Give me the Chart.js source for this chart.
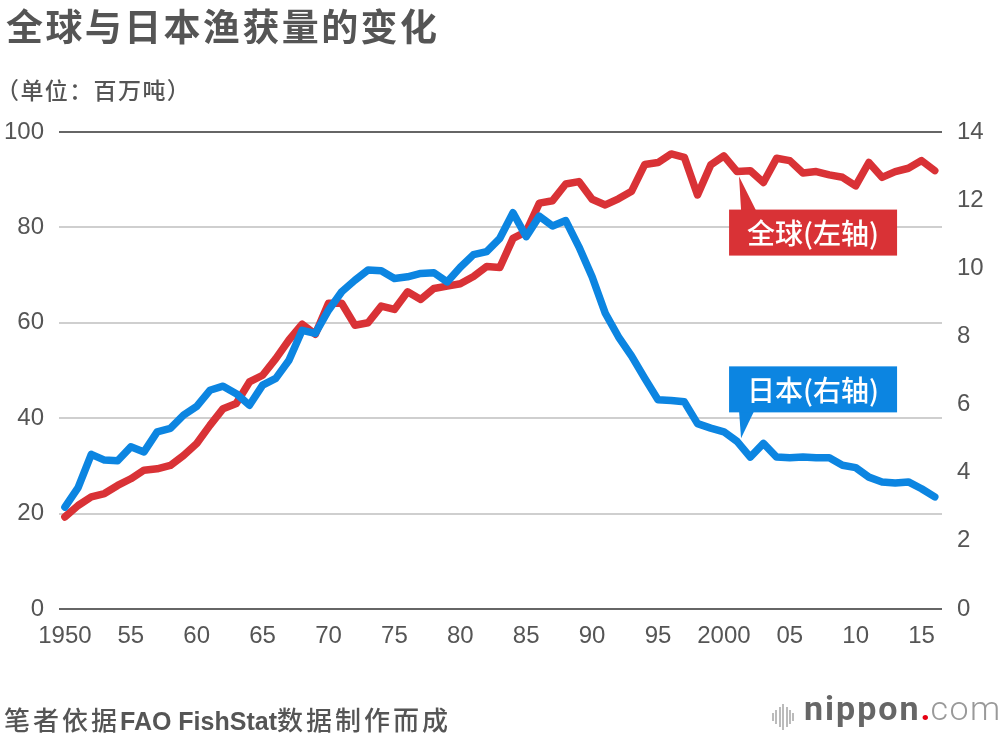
<!DOCTYPE html>
<html>
<head>
<meta charset="utf-8">
<script src="https://cdn.jsdelivr.net/npm/chart.js@4.4.1/dist/chart.umd.min.js"></script>
<style>
  html, body { margin: 0; padding: 0; background: #fff; }
  #wrap { position: relative; width: 1000px; height: 736px; overflow: hidden; }
  #chart { position: absolute; left: 0; top: 0; }
  .txt { position: absolute; color: #555; font-family: "Noto Sans CJK SC", sans-serif; white-space: nowrap; }
  #title { left: 6px; top: -2px; font-size: 37px; font-weight: 700; letter-spacing: 2.4px; }
  #unit { left: -4px; top: 72px; font-size: 23px; font-weight: 500; letter-spacing: 1.4px; }
  #source { left: 4px; top: 700px; font-size: 25px; font-weight: 700; font-family: "Liberation Sans", "Noto Sans CJK SC", sans-serif; }
  #source .cj { font-family: "Noto Sans CJK SC", sans-serif; font-weight: 500; font-size: 26px; letter-spacing: 3px; }
  #logo { position: absolute; left: 770px; top: 694px; height: 40px; }
  #logo .bars { position: absolute; left: 2px; top: 10px; }
  #logo .bars span { position: absolute; width: 2px; background: #bbb; }
  #logo .word { position: absolute; left: 34px; top: -6px; font-family: Roboto, sans-serif; font-size: 34px; white-space: nowrap; }
  #logo .n { font-weight: 700; color: #666; letter-spacing: 2px; }
  #logo .d { font-weight: 700; color: #e60012; }
  #logo .c { font-weight: 300; color: #999; letter-spacing: 1.5px; }
</style>
</head>
<body>
<div id="wrap">
  <canvas id="chart" width="1000" height="736"></canvas>
  <div class="txt" id="title">全球与日本渔获量的变化</div>
  <div class="txt" id="unit">（单位：百万吨）</div>
  <div class="txt" id="source"><span class="cj">笔者依据</span>FAO FishStat<span class="cj">数据制作而成</span></div>
  <div id="logo">
    <div class="bars" id="bars"></div>
    <div class="word"><span class="n">nippon</span><span class="d">.</span><span class="c">com</span></div>
  </div>
</div>
<script>
// years 1950 - 2016
const years = [];
for (let y = 1950; y <= 2016; y++) years.push(y);

// world catch, million tonnes (left axis)
const worldCatch = [
  19.3, 21.7, 23.5, 24.2, 25.9, 27.3, 29.1, 29.4, 30.1, 32.2,
  34.7, 38.5, 42.0, 43.1, 47.6, 49.0, 52.5, 56.4, 59.7, 57.6,
  64.1, 64.1, 59.5, 60.0, 63.5, 62.8, 66.5, 64.9, 67.2, 67.7,
  68.2, 69.7, 71.8, 71.6, 77.7, 79.1, 85.1, 85.6, 89.1, 89.6,
  85.9, 84.7, 86.0, 87.6, 93.2, 93.6, 95.4, 94.7, 86.8, 93.1,
  95.0, 91.7, 91.9, 89.4, 94.5, 94.0, 91.4, 91.7, 91.0, 90.5,
  88.7, 93.6, 90.5, 91.7, 92.4, 94.0, 91.9
];

// Japan catch, million tonnes (right axis)
const japanCatch = [
  2.99, 3.56, 4.54, 4.37, 4.35, 4.76, 4.61, 5.20, 5.30, 5.69,
  5.95, 6.42, 6.54, 6.32, 5.98, 6.57, 6.77, 7.30, 8.18, 8.09,
  8.77, 9.31, 9.65, 9.95, 9.93, 9.70, 9.75, 9.85, 9.87, 9.60,
  10.03, 10.40, 10.49, 10.88, 11.63, 10.93, 11.53, 11.24, 11.40, 10.63,
  9.75, 8.68, 7.99, 7.42, 6.77, 6.14, 6.12, 6.08, 5.44, 5.31,
  5.20, 4.92, 4.46, 4.86, 4.46, 4.44, 4.46, 4.44, 4.44, 4.22,
  4.15, 3.87, 3.73, 3.70, 3.73, 3.53, 3.29
];

const xTickYears = [1950, 1955, 1960, 1965, 1970, 1975, 1980, 1985, 1990, 1995, 2000, 2005, 2010, 2015];
const xTickLabels = ['1950', '55', '60', '65', '70', '75', '80', '85', '90', '95', '2000', '05', '10', '15'];
const leftTicks = [0, 20, 40, 60, 80, 100];
const rightTicks = [0, 2, 4, 6, 8, 10, 12, 14];

const RED = '#d93236';
const BLUE = '#0c85e1';
const labelYear = 2001;

// logo bars
const barHeights = [8, 14, 20, 26, 20, 14, 8];
const barsEl = document.getElementById('bars');
barHeights.forEach(function (h, i) {
  const s = document.createElement('span');
  s.style.left = (i * 3.4) + 'px';
  s.style.height = h + 'px';
  s.style.top = (13 - h / 2) + 'px';
  barsEl.appendChild(s);
});

const calloutPlugin = {
  id: 'callouts',
  afterDatasetsDraw(chart) {
    const c = chart.ctx;
    const xs = chart.scales.x;
    const i = years.indexOf(labelYear);
    const px = xs.getPixelForValue(labelYear);

    function box(color, text, bx, by, tri) {
      c.save();
      c.fillStyle = color;
      c.beginPath();
      c.moveTo(tri[0][0], tri[0][1]);
      c.lineTo(tri[1][0], tri[1][1]);
      c.lineTo(tri[2][0], tri[2][1]);
      c.closePath();
      c.fill();
      c.fillRect(bx, by, 168, 46);
      c.fillStyle = '#fff';
      c.font = '500 28px "Noto Sans CJK SC"';
      c.textAlign = 'center';
      c.textBaseline = 'middle';
      c.fillText(text, bx + 84, by + 24);
      c.restore();
    }

    // world (left axis)
    const ry = chart.scales.yL.getPixelForValue(worldCatch[i]);
    const rTop = ry + 38;
    box(RED, '全球(左轴)', px - 8, rTop,
      [[px + 2, ry + 5], [px + 4, rTop + 1], [px + 19, rTop + 1]]);

    // japan (right axis)
    const by = chart.scales.yR.getPixelForValue(japanCatch[i]);
    const bBot = by - 29;
    box(BLUE, '日本(右轴)', px - 8, bBot - 46,
      [[px + 4, by - 3], [px + 2, bBot - 1], [px + 17, bBot - 1]]);
  }
};

const ctx = document.getElementById('chart').getContext('2d');
const chart = new Chart(ctx, {
  type: 'line',
  data: {
    datasets: [
      {
        label: '日本(右轴)',
        data: years.map((y, k) => ({ x: y, y: japanCatch[k] })),
        borderColor: BLUE,
        yAxisID: 'yR',
        order: 0
      },
      {
        label: '全球(左轴)',
        data: years.map((y, k) => ({ x: y, y: worldCatch[k] })),
        borderColor: RED,
        yAxisID: 'yL',
        order: 1
      }
    ]
  },
  options: {
    responsive: false,
    animation: false,
    devicePixelRatio: 1,
    layout: { padding: { top: 132, left: 0, right: 0, bottom: 67 } },
    elements: {
      line: { borderWidth: 7.5, tension: 0, borderJoinStyle: 'round', borderCapStyle: 'round', fill: false },
      point: { radius: 0, hoverRadius: 0 }
    },
    plugins: {
      legend: { display: false },
      tooltip: { enabled: false }
    },
    scales: {
      x: {
        type: 'linear',
        min: 1949.55,
        max: 2016.55,
        afterFit: function (s) { s.height = 60; },
        afterBuildTicks: function (s) { s.ticks = xTickYears.map(v => ({ value: v })); },
        grid: { display: false, drawTicks: false },
        border: { display: false },
        ticks: {
          color: '#555',
          padding: 13,
          maxRotation: 0,
          autoSkip: false,
          font: { family: 'Liberation Sans', size: 24 },
          callback: function (v) { return xTickLabels[xTickYears.indexOf(v)]; }
        }
      },
      yL: {
        position: 'left',
        min: 0,
        max: 100,
        afterFit: function (s) { s.width = 59; },
        afterBuildTicks: function (s) { s.ticks = leftTicks.map(v => ({ value: v })); },
        grid: {
          drawTicks: false,
          lineWidth: 2,
          color: function (c) { return (c.tick.value === 0 || c.tick.value === 100) ? '#666' : '#cfcfcf'; }
        },
        border: { display: false },
        ticks: { color: '#555', padding: 15, font: { family: 'Liberation Sans', size: 24 } }
      },
      yR: {
        position: 'right',
        min: 0,
        max: 14,
        afterFit: function (s) { s.width = 58; },
        afterBuildTicks: function (s) { s.ticks = rightTicks.map(v => ({ value: v })); },
        grid: { display: false, drawTicks: false },
        border: { display: false },
        ticks: { color: '#555', padding: 15, font: { family: 'Liberation Sans', size: 24 } }
      }
    }
  },
  plugins: [calloutPlugin]
});
</script>
</body>
</html>
